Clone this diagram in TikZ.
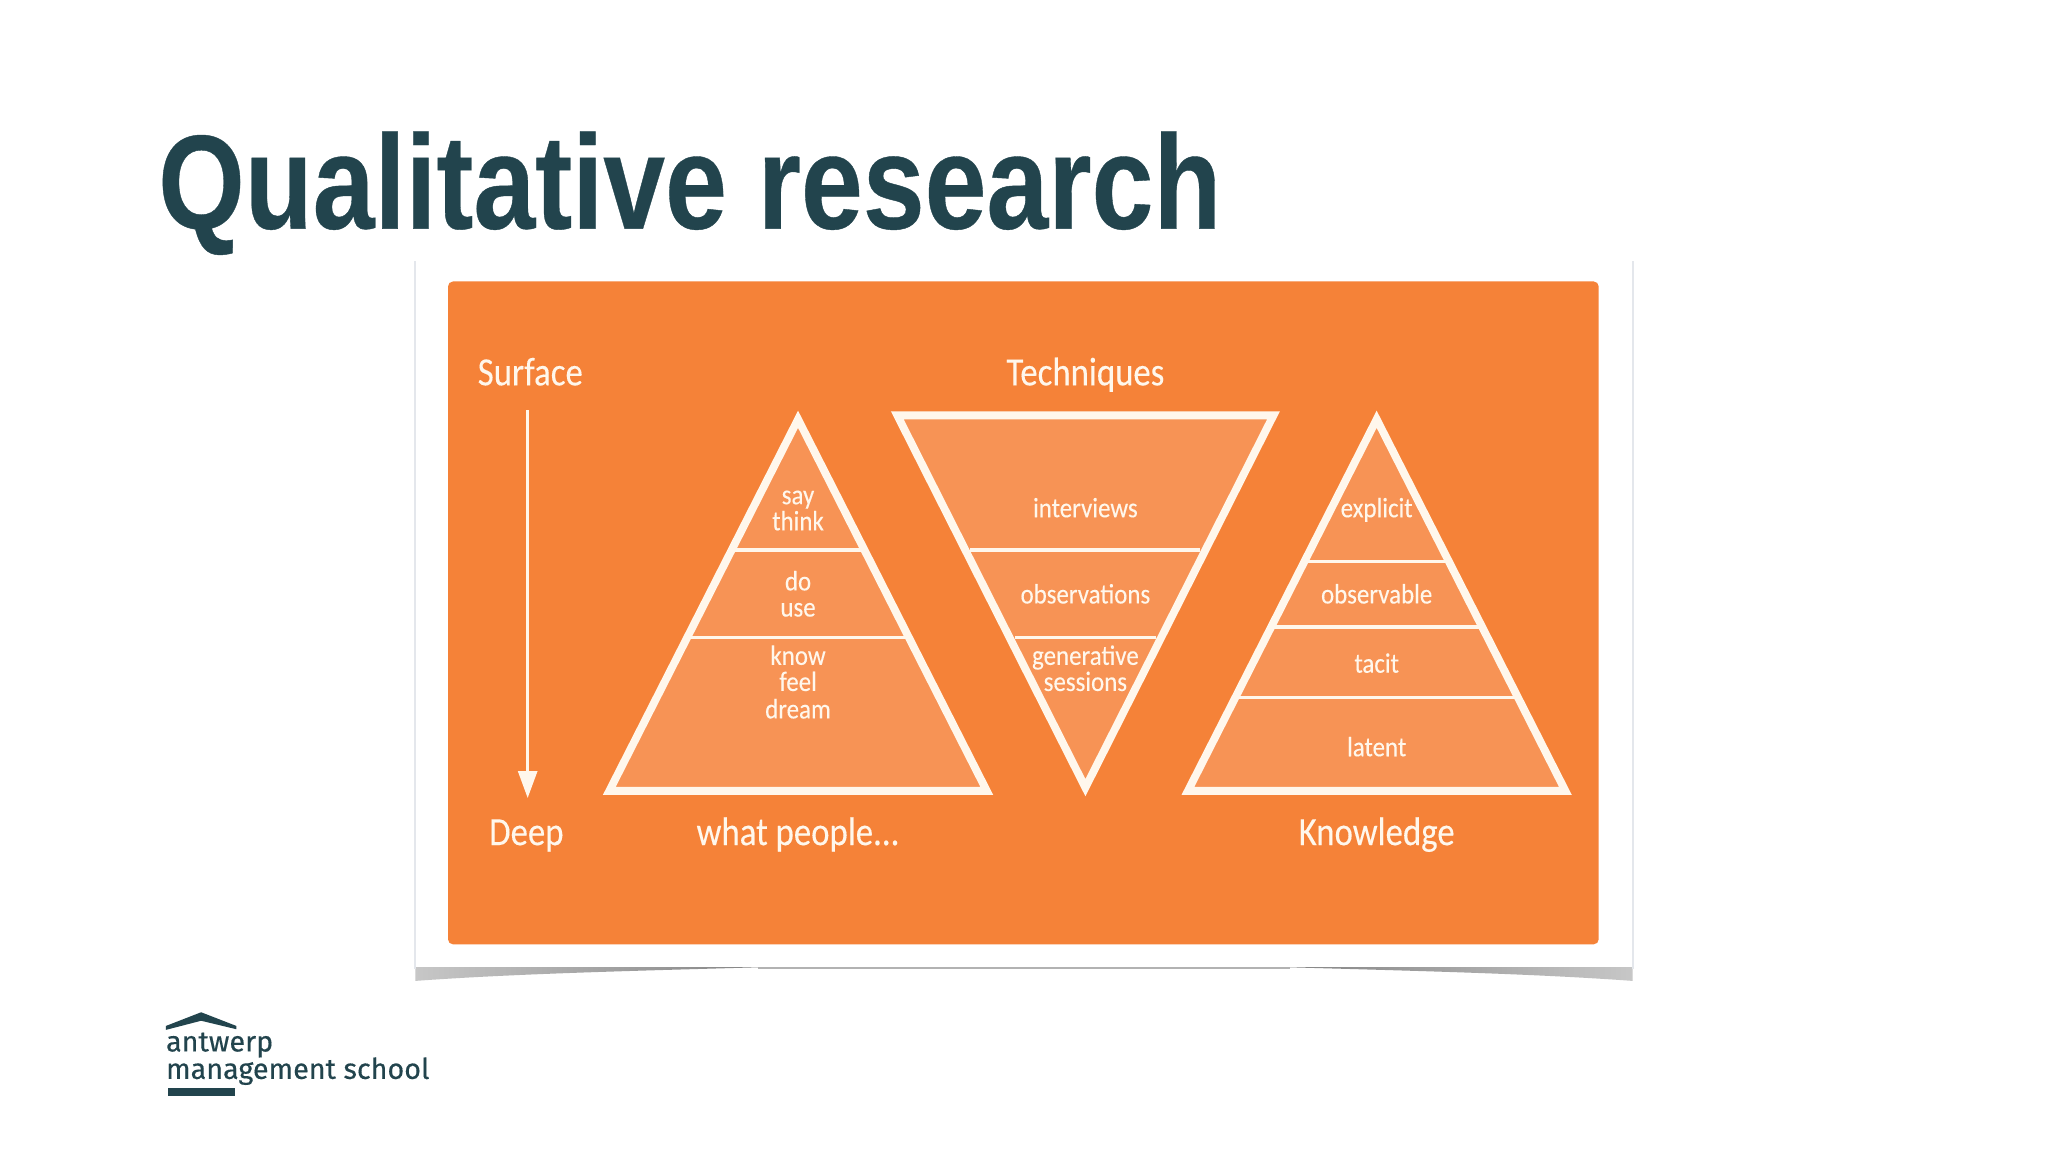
\documentclass[tikz,border=0pt]{standalone}
\usepackage{graphicx}
\usepackage{fontspec}
\setmainfont{Carlito}
\newfontfamily\titlefont[FakeBold=0.3]{Liberation Sans}
\newfontfamily\logofont[FakeBold=0.35]{Fira Sans}
\newfontfamily\labfont[FakeBold=0.25]{Carlito}
\usetikzlibrary{arrows.meta}
\definecolor{slatecol}{HTML}{22444D}
\definecolor{panelorange}{HTML}{F58238}
\definecolor{trifill}{HTML}{F79355}
\definecolor{creamline}{HTML}{FFF7EC}
\definecolor{edgegrey}{HTML}{E4E7EC}
\newcommand{\biglabtext}[1]{\scalebox{.87}[1]{#1}}
\newcommand{\smalllabtext}[1]{\scalebox{.89}[1]{#1}}
\tikzset{
  tri/.style={fill=trifill,draw=creamline,line width=7.8pt,miter limit=10,line join=miter},
  rung/.style={draw=creamline,line width=3.6pt},
  biglab/.style={text=creamline,anchor=base,inner sep=0pt,font=\labfont\fontsize{40}{40}\selectfont},
  smalllab/.style={text=creamline,anchor=base,inner sep=0pt,font=\labfont\fontsize{28}{28}\selectfont},
  logotext/.style={anchor=base west,inner sep=0pt,text=slatecol,font=\logofont\fontsize{28.7}{28.7}\selectfont},
}
\begin{document}
\begin{tikzpicture}[x=1.30612pt,y=-1.30612pt]
\useasboundingbox (0,0) rectangle (1568,882);
\fill[white] (0,0) rectangle (1568,882);
% shadow
\shade[left color=black!22,right color=black!50] (318,740) -- (600,740) .. controls (500,743) and (400,745) .. (318,751) -- cycle;
\shade[left color=black!50,right color=black!22] (1250,740) -- (968,740) .. controls (1068,743) and (1168,745) .. (1250,751) -- cycle;
\fill[black!30] (580,740) rectangle (988,741.5);
% panel
\fill[white] (318,200) rectangle (1250,740);
\draw[edgegrey,line width=2pt] (318,200) -- (318,742);
\draw[edgegrey,line width=2pt] (1250,200) -- (1250,742);
\fill[panelorange,rounded corners=5pt] (343,215.5) rectangle (1224,723);
% triangles
\draw[tri] (611,321) -- (755.5,605.5) -- (466.5,605.5) -- cycle;
\draw[tri] (687,318) -- (975,318) -- (831,603) -- cycle;
\draw[tri] (1054,321) -- (1198.5,605.5) -- (909.5,605.5) -- cycle;
% rungs
\draw[rung] (561,421) -- (661,421);
\draw[rung] (527,488) -- (695,488);
\draw[rung] (743,421) -- (919,421);
\draw[rung] (777,488) -- (885,488);
\draw[rung] (1000,430) -- (1108,430);
\draw[rung] (975,480) -- (1133,480);
\draw[rung] (948,534) -- (1160,534);
% arrow
\coordinate (arrowstart) at (404,314);
\coordinate (arrowend) at (404,611);
\draw[creamline,line width=2.8pt,-{Triangle[length=27pt,width=19pt]}] (arrowstart) -- (arrowend);
% big labels
\node[biglab] (surface) at (406,295) {\biglabtext{Surface}};
\node[biglab] (techniques) at (831,295) {\biglabtext{Techniques}};
\node[biglab] (deep) at (403,647) {\biglabtext{Deep}};
\node[biglab] (whatpeople) at (611,647) {\biglabtext{what people...}};
\node[biglab] (knowledge) at (1054,647) {\biglabtext{Knowledge}};
% small labels
\node[smalllab] (say) at (611,386) {\smalllabtext{say}};
\node[smalllab] (think) at (611,406) {\smalllabtext{think}};
\node[smalllab] (do) at (611,452) {\smalllabtext{do}};
\node[smalllab] (use) at (611,472) {\smalllabtext{use}};
\node[smalllab] (know) at (611,509) {\smalllabtext{know}};
\node[smalllab] (feel) at (611,529) {\smalllabtext{feel}};
\node[smalllab] (dream) at (611,550) {\smalllabtext{dream}};
\node[smalllab] (interviews) at (831,396) {\smalllabtext{interviews}};
\node[smalllab] (observations) at (831,462) {\smalllabtext{observations}};
\node[smalllab] (generative) at (831,509) {\smalllabtext{generative}};
\node[smalllab] (sessions) at (831,529) {\smalllabtext{sessions}};
\node[smalllab] (explicit) at (1054,396) {\smalllabtext{explicit}};
\node[smalllab] (observable) at (1054,462) {\smalllabtext{observable}};
\node[smalllab] (tacit) at (1054,515) {\smalllabtext{tacit}};
\node[smalllab] (latent) at (1054,579) {\smalllabtext{latent}};
% title
\node[anchor=base west,inner sep=0pt,text=slatecol,font=\titlefont\bfseries\fontsize{134}{134}\selectfont] (title) at (121,175) {\scalebox{.83}[1]{Qualitative research}};
% logo
\fill[slatecol] (127,785.5) -- (154,775) -- (181,785.5) -- (181,788) -- (154,781.5) -- (127,788.5) -- cycle;
\fill[slatecol] (129,833) rectangle (180,839);
\node[logotext] (antwerp) at (127,805) {antwerp};
\node[logotext] (mgmt) at (127,826) {management school};
\end{tikzpicture}
\end{document}
